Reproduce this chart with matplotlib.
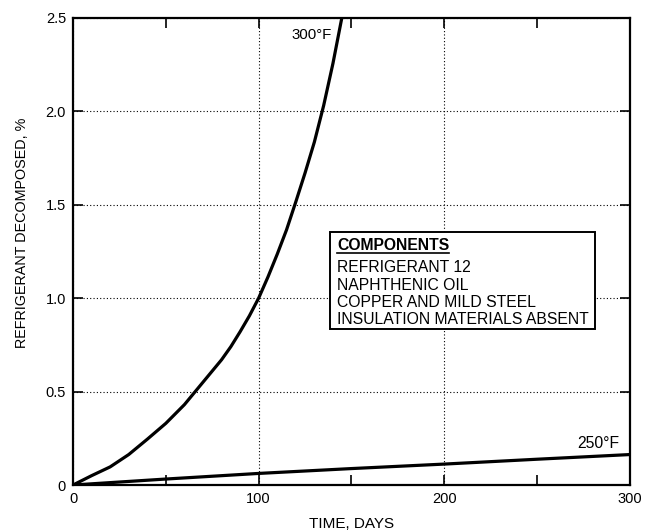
import numpy as np
import matplotlib
matplotlib.use('Agg')
import matplotlib.pyplot as plt
from matplotlib.ticker import MultipleLocator
from matplotlib.patches import Rectangle
from matplotlib.lines import Line2D

plt.rcParams['font.family'] = ['Liberation Sans', 'DejaVu Sans']

# 300 F curve (days, % decomposed)
days_300 = [0, 10, 20, 30, 40, 50, 60, 65, 70, 75, 80, 85, 90, 95, 100,
            105, 110, 115, 120, 125, 130, 135, 140, 145]
pct_300 = [0, 0.05, 0.097, 0.163, 0.245, 0.33, 0.43, 0.49, 0.55, 0.61, 0.67, 0.74,
           0.82, 0.905, 1.0, 1.113, 1.235, 1.365, 1.515, 1.67, 1.835, 2.03, 2.255, 2.51]

# 250 F curve
days_250 = [0, 50, 100, 150, 200, 250, 300]
pct_250 = [0, 0.032, 0.062, 0.088, 0.112, 0.138, 0.163]

components = ['REFRIGERANT 12', 'NAPHTHENIC OIL', 'COPPER AND MILD STEEL',
              'INSULATION MATERIALS ABSENT']

fig = plt.figure(figsize=(6.45, 5.31), dpi=100)
ax = fig.add_axes([0.1132, 0.0866, 0.8635, 0.8800])

ax.plot(days_300, pct_300, color='black', lw=2.3, solid_capstyle='butt')
ax.plot(days_250, pct_250, color='black', lw=2.3, solid_capstyle='butt')

ax.set_xlim(0, 300)
ax.set_ylim(0, 2.5)
ax.xaxis.set_minor_locator(MultipleLocator(50))
ax.set_yticks([0, 0.5, 1.0, 1.5, 2.0, 2.5])
ax.set_yticklabels(['0', '0.5', '1.0', '1.5', '2.0', '2.5'])
ax.set_xticks([0, 100, 200, 300])
ax.set_xticklabels(['0', '100', '200', '300'])

ax.tick_params(which='both', direction='in', top=True, right=True,
               labelsize=10.5, width=1.2, pad=5, length=7)
ax.grid(True, which='major', linestyle=(0, (1, 2)), color='black', lw=0.8)
for s in ax.spines.values():
    s.set_linewidth(1.6)

ax.set_xlabel('TIME, DAYS', fontsize=11, labelpad=8)
ax.text(-0.092, 0.539, 'REFRIGERANT DECOMPOSED, %', transform=ax.transAxes,
        rotation=90, ha='center', va='center', fontsize=10.4)

ax.text(139.4, 2.41, '300°F', ha='right', va='center', fontsize=10.8)
ax.text(294.5, 0.22, '250°F', ha='right', va='center', fontsize=11.3)

# components box
ax.add_patch(Rectangle((138.3, 0.835), 142.9, 0.519, fc='white', ec='black',
                       lw=1.4, zorder=4))
tx = 142.2
title = ax.text(tx, 1.260, 'COMPONENTS', fontsize=11.3, fontweight='bold',
                ha='left', va='baseline', zorder=5)
for yb, line in zip([1.140, 1.046, 0.952, 0.861], components):
    ax.text(tx, yb, line, fontsize=11.3, ha='left', va='baseline', zorder=5)

fig.canvas.draw()
bb = title.get_window_extent()
inv = ax.transData.inverted()
(x0, _), (x1, _) = inv.transform([(bb.x0, 0), (bb.x1, 0)])
ax.add_line(Line2D([x0, x1], [1.2395, 1.2395], color='black', lw=1.2, zorder=5))

plt.savefig('out.png', dpi=100)
